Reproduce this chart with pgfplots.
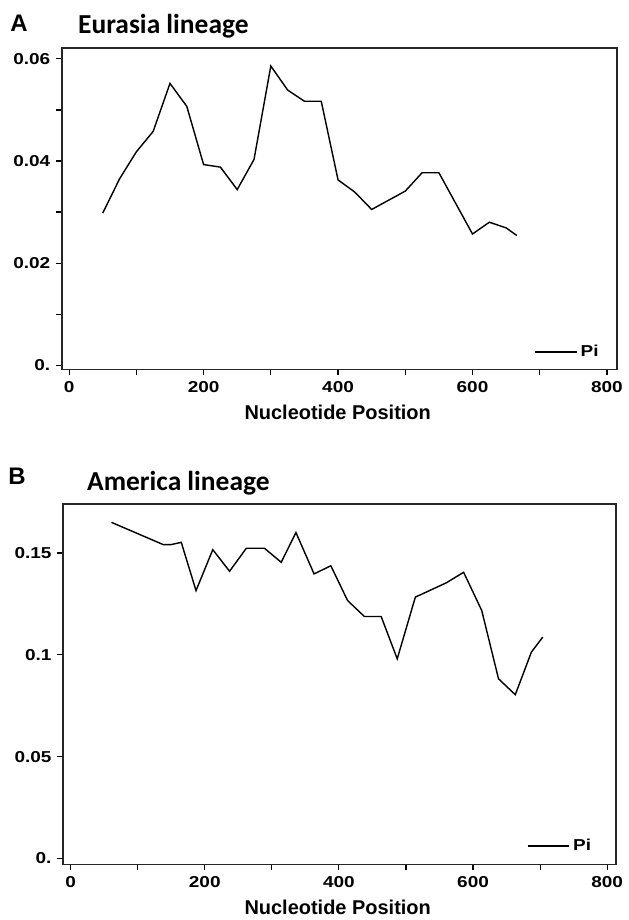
\documentclass[border=0pt]{standalone}
\usepackage{pgfplots}
\pgfplotsset{compat=1.18}
\usepackage{fontspec}
\setmainfont{Liberation Sans}
\newfontfamily\carlito{Carlito}
\newfontfamily\tickfont[FakeStretch=1.2]{Liberation Sans}

% shared look of both panels (1px of the reference = 0.6pt)
\pgfplotsset{
  pipanel/.style={
    scale only axis,
    anchor=south west,
    axis line style={line width=0.9pt, black!85},
    tick align=outside,
    xtick pos=lower, ytick pos=left,
    major tick length=3.5pt, minor tick length=3.5pt,
    tick style={line width=0.7pt, black},
    /pgf/number format/assume math mode=true,
    tick label style={font=\tickfont\bfseries\fontsize{9.5}{11}\selectfont},
    scaled y ticks=false,
    xtick={0,200,400,600,800},
    xticklabels={0,200,400,600,800},
    minor xtick={100,300,500,700},
    legend style={draw=none, fill=none, inner sep=0pt, anchor=west,
      font=\tickfont\bfseries\fontsize{9.5}{11}\selectfont},
    legend image code/.code={\draw[line width=0.8pt] (0pt,0pt) -- (25pt,0pt);},
  },
  piline/.style={black, line width=0.85pt, no marks},
}

\begin{document}
\begin{tikzpicture}
\path (0,0) rectangle (374.4pt,-552pt);

% ---- A: Eurasia
\node[inner sep=0pt, anchor=base west, font=\bfseries\fontsize{14.4}{16}\selectfont] at (6pt,-19.2pt) {A};
\node[inner sep=0pt, anchor=base west, font=\carlito\bfseries\fontsize{16.5}{18}\selectfont] at (46.8pt,-20pt) {Eurasia lineage};
\begin{axis}[pipanel,
    at={(37.2pt,-222pt)}, width=333.6pt, height=193.2pt,
    xmin=-10.8, xmax=814.7, ymin=-0.0008, ymax=0.06215,
    ytick={0,0.02,0.04,0.06}, yticklabels={0.,0.02,0.04,0.06},
    minor ytick={0.01,0.03,0.05},
    legend style={at={(rel axis cs:0.851,0.054)}},
]
\addplot[piline] coordinates {
(50,0.0298) (75,0.0365) (100,0.0418) (125,0.0458) (150,0.0552) (175,0.0507)
(200,0.0393) (225,0.0388) (250,0.0344) (275,0.0403) (300,0.0586) (325,0.0539)
(350,0.0517) (375,0.0517) (400,0.0363) (425,0.0339) (450,0.0305) (500,0.0341)
(525,0.0377) (550,0.0377) (600,0.0257) (625,0.0280) (650,0.0269) (666,0.0254)
};
\addlegendentry{Pi}
\end{axis}
\node[anchor=base, font=\bfseries\fontsize{12}{14}\selectfont] at (203pt,-252pt) {Nucleotide Position};

% ---- B: America
\node[inner sep=0pt, anchor=base west, font=\bfseries\fontsize{14.4}{16}\selectfont] at (4.8pt,-291pt) {B};
\node[inner sep=0pt, anchor=base west, font=\carlito\bfseries\fontsize{16.5}{18}\selectfont] at (52.2pt,-295pt) {America lineage};
\begin{axis}[pipanel,
    at={(38pt,-519.6pt)}, width=332.4pt, height=216.6pt,
    xmin=-11, xmax=813.4, ymin=-0.0029, ymax=0.174,
    ytick={0,0.05,0.1,0.15}, yticklabels={0.,0.05,0.1,0.15},
    legend style={at={(rel axis cs:0.838,0.051)}},
]
\addplot[piline] coordinates {
(61,0.165) (138,0.1541) (150,0.1541) (165,0.1552) (187,0.1315) (212,0.1516)
(237,0.141) (262,0.1523) (289,0.1523) (314,0.1454) (336,0.160) (363,0.1397)
(388,0.1437) (413,0.1266) (438,0.1188) (463,0.1188) (487,0.098) (514,0.1283)
(560,0.1353) (586,0.1405) (613,0.1217) (638,0.0882) (663,0.0804) (687,0.1013)
(704,0.1087)
};
\addlegendentry{Pi}
\end{axis}
\node[anchor=base, font=\bfseries\fontsize{12}{14}\selectfont] at (203pt,-549.6pt) {Nucleotide Position};
\end{tikzpicture}
\end{document}
